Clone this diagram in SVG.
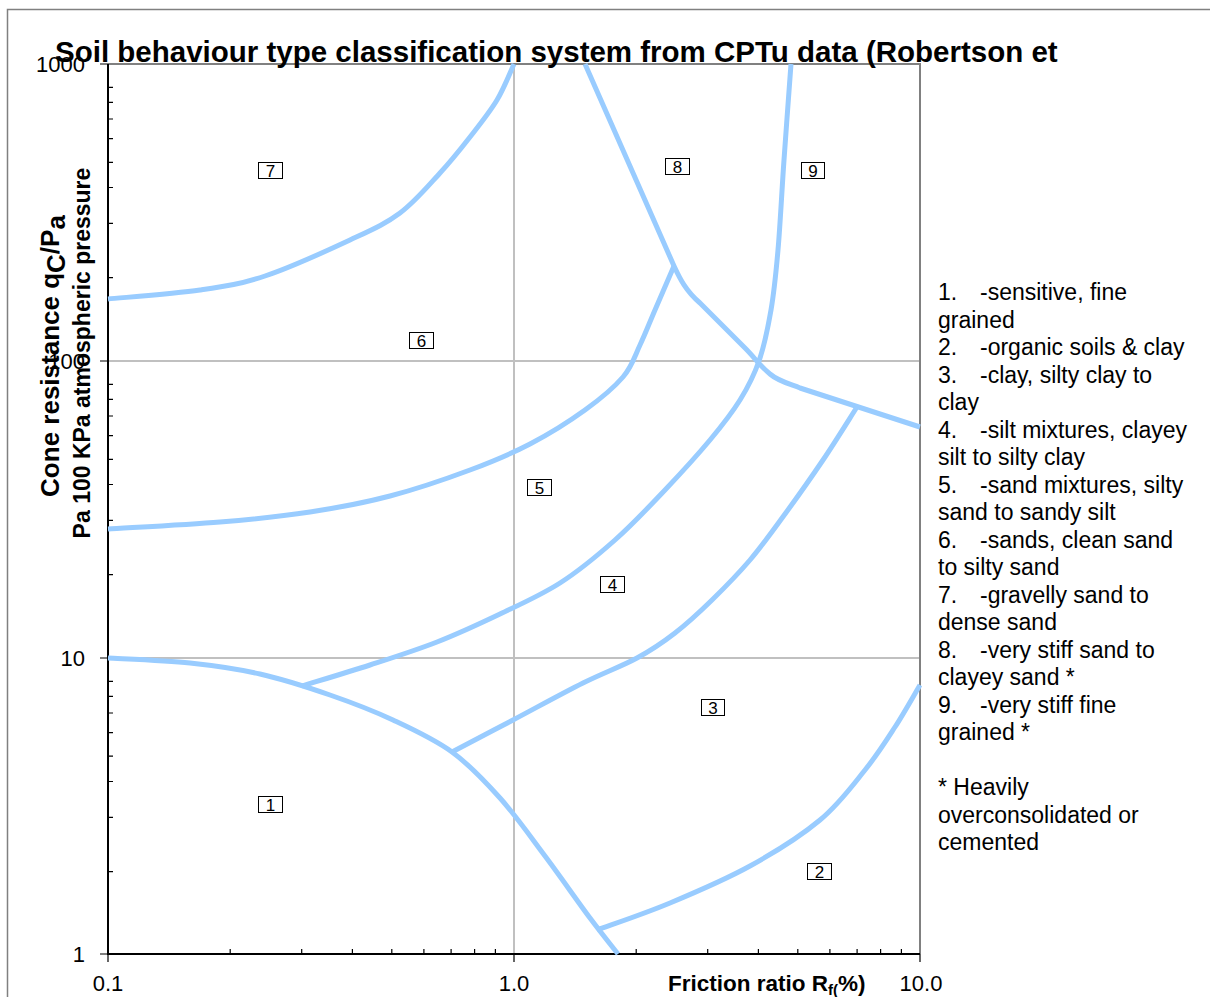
<svg xmlns="http://www.w3.org/2000/svg" width="1210" height="997" viewBox="0 0 1210 997">
<style>
text{font-family:"Liberation Sans",Arial,sans-serif;fill:#000}
.tl{font-size:22px}
.lg{font-size:23px}
.b{font-weight:bold}
.grid{stroke:#c0c0c0;stroke-width:2;fill:none}
.frame{stroke:#808080;stroke-width:2;fill:none}
.axis{stroke:#000;stroke-width:2;fill:none}
.tick{stroke:#000;stroke-width:1.2;fill:none}
.cv{stroke:#99ccff;stroke-width:5;fill:none;stroke-linejoin:round;stroke-linecap:butt}
.zb{fill:#fff;stroke:#000;stroke-width:1}
.zt{font-size:17px;text-anchor:middle}
</style>
<rect width="1210" height="997" fill="#fff"/>
<path d="M7.5,997 V9.5 H1210" stroke="#808080" stroke-width="1.5" fill="none"/>
<g id="grid">
<line class="grid" x1="514" y1="64" x2="514" y2="954"/>
<line class="grid" x1="108" y1="361" x2="920" y2="361"/>
<line class="grid" x1="108" y1="658" x2="920" y2="658"/>
<path class="frame" d="M108,64 H920 V954"/>
</g>
<g id="axes">
<path class="axis" d="M108,64 V954 H920"/>
<path class="tick" d="M100,64 H108 M100,361 H108 M100,658 H108 M100,954 H108 M108,954 V962 M514,954 V962 M920,954 V962"/>
<path class="tick" d="M108,871.6 H113 M108,817.3 H113 M108,781.5 H113 M108,756.2 H113 M108,732.6 H113 M108,713 H113 M108,696.4 H113 M108,681.4 H113
M108,574.6 H113 M108,520.3 H113 M108,484.5 H113 M108,459.3 H113 M108,435.6 H113 M108,416 H113 M108,399.3 H113 M108,384.4 H113
M108,277.6 H113 M108,223.3 H113 M108,187.5 H113 M108,162.3 H113 M108,138.6 H113 M108,119 H113 M108,102.4 H113 M108,87.4 H113"/>
<path class="tick" d="M230.2,954 V949 M301.7,954 V949 M352.4,954 V949 M391.8,954 V949 M423.9,954 V949 M451.1,954 V949 M474.6,954 V949 M495.4,954 V949
M636.2,954 V949 M707.7,954 V949 M758.4,954 V949 M797.8,954 V949 M829.9,954 V949 M857.1,954 V949 M880.6,954 V949 M901.4,954 V949"/>
<text class="tl" x="85" y="72" text-anchor="end">1000</text>
<text class="tl" x="85" y="369" text-anchor="end">100</text>
<text class="tl" x="85" y="666" text-anchor="end">10</text>
<text class="tl" x="85" y="962" text-anchor="end">1</text>
<text class="tl" x="108" y="991" text-anchor="middle">0.1</text>
<text class="tl" x="514" y="991" text-anchor="middle">1.0</text>
<text class="tl" x="921" y="991" text-anchor="middle">10.0</text>
</g>
<g id="connectors">
<path class="cv" d="M108,299 C123.3,297.5 173.8,293.8 200,290 C226.2,286.2 240,284.3 265,276 C290,267.7 327.5,250.5 350,240 C372.5,229.5 385,224.2 400,213 C415,201.8 428.3,185.7 440,173 C451.7,160.3 460.5,149.2 470,137 C479.5,124.8 489.7,112.2 497,100 C504.3,87.8 511.2,70 514,64"/>
<path class="cv" d="M108,529 C126.7,527.8 186.3,524.8 220,522 C253.7,519.2 281.7,516.3 310,512 C338.3,507.7 363.3,503 390,496 C416.7,489 446.7,478.7 470,470 C493.3,461.3 510.8,454 530,444 C549.2,434 569.5,421.2 585,410 C600.5,398.8 613.8,387.8 623,377 C632.2,366.2 634.7,356.2 640,345 C645.3,333.8 649.3,323.2 655,310 C660.7,296.8 670.8,273.3 674,266"/>
<path class="cv" d="M585,64 L674,266 C680,279 686,291 700,303 L745,348 C755,358 760,366 770,374 C778,381 790,384 800,388 L920,427"/>
<path class="cv" d="M791,64 C789.8,80 786.2,129 784,160 C781.8,191 780.2,225 778,250 C775.8,275 774.2,291.5 771,310 C767.8,328.5 764.2,346 759,361 C753.8,376 748.2,386.8 740,400 C731.8,413.2 722.5,425 710,440 C697.5,455 680.8,473.3 665,490 C649.2,506.7 632.5,524.5 615,540 C597.5,555.5 579.2,570.7 560,583 C540.8,595.3 520.5,604.2 500,614 C479.5,623.8 458.7,633.5 437,642 C415.3,650.5 392.5,657.7 370,665 C347.5,672.3 313.3,682.5 302,686"/>
<path class="cv" d="M452,752 C462.2,746.7 491.2,731.5 513,720 C534.8,708.5 562.3,693.3 583,683 C603.7,672.7 621.7,666.3 637,658 C652.3,649.7 662.5,642.7 675,633 C687.5,623.3 699.5,612.2 712,600 C724.5,587.8 737.8,574.3 750,560 C762.2,545.7 772.8,530.7 785,514 C797.2,497.3 811,477.8 823,460 C835,442.2 851.3,415.8 857,407"/>
<path class="cv" d="M108,658 C121.7,658.8 164.7,660.3 190,663 C215.3,665.7 236.7,668.7 260,674 C283.3,679.3 307.8,687.3 330,695 C352.2,702.7 372.7,710.5 393,720 C413.3,729.5 434.2,739 452,752 C469.8,765 484.5,780.7 500,798 C515.5,815.3 530,836 545,856 C560,876 577.8,901.7 590,918 C602.2,934.3 613.3,948 618,954"/>
<path class="cv" d="M597,930 C609.2,925.5 644.5,913.7 670,903 C695.5,892.3 725,879.8 750,866 C775,852.2 800.8,836 820,820 C839.2,804 852.5,785.5 865,770 C877.5,754.5 885.8,741.2 895,727 C904.2,712.8 915.8,692 920,685"/>
</g>
<g id="zone7"><rect class="zb" x="258.5" y="162.5" width="24" height="16"/><text class="zt" x="270.5" y="177">7</text></g>
<g id="zone6"><rect class="zb" x="409.5" y="332.5" width="24" height="16"/><text class="zt" x="421.5" y="347">6</text></g>
<g id="zone8"><rect class="zb" x="665.5" y="158.5" width="24" height="16"/><text class="zt" x="677.5" y="173">8</text></g>
<g id="zone9"><rect class="zb" x="801.5" y="162.5" width="23" height="16"/><text class="zt" x="813" y="177">9</text></g>
<g id="zone5"><rect class="zb" x="527.5" y="479.5" width="24" height="16"/><text class="zt" x="539.5" y="494">5</text></g>
<g id="zone4"><rect class="zb" x="600.5" y="576.5" width="24" height="16"/><text class="zt" x="612.5" y="591">4</text></g>
<g id="zone3"><rect class="zb" x="701.5" y="699.5" width="23" height="16"/><text class="zt" x="713" y="714">3</text></g>
<g id="zone1"><rect class="zb" x="258.5" y="796.5" width="24" height="16"/><text class="zt" x="270.5" y="811">1</text></g>
<g id="zone2"><rect class="zb" x="807.5" y="863.5" width="24" height="16"/><text class="zt" x="819.5" y="878">2</text></g>
<g id="title"><text class="b" x="55" y="62" font-size="29.5">Soil behaviour type classification system from CPTu data (Robertson et</text></g>
<g id="ylabel">
<text class="b" font-size="26" text-anchor="middle" transform="translate(59,356) rotate(-90)">Cone resistance q<tspan dy="6">C</tspan><tspan dy="-6">/P</tspan><tspan dy="6">a</tspan></text>
<text class="b" font-size="23" text-anchor="middle" transform="translate(90,353) rotate(-90)">Pa 100 KPa atmospheric pressure</text>
</g>
<g id="xlabel"><text class="b" x="668" y="991" font-size="22.5">Friction ratio R<tspan font-size="15" dy="4">f(</tspan><tspan dy="-4">%)</tspan></text></g>
<g id="legend" class="lg">
<text class="lg" x="938" y="300">1.<tspan x="980">-sensitive, fine</tspan></text>
<text class="lg" x="938" y="327.5">grained</text>
<text class="lg" x="938" y="355">2.<tspan x="980">-organic soils &amp; clay</tspan></text>
<text class="lg" x="938" y="382.5">3.<tspan x="980">-clay, silty clay to</tspan></text>
<text class="lg" x="938" y="410">clay</text>
<text class="lg" x="938" y="437.5">4.<tspan x="980">-silt mixtures, clayey</tspan></text>
<text class="lg" x="938" y="465">silt to silty clay</text>
<text class="lg" x="938" y="492.5">5.<tspan x="980">-sand mixtures, silty</tspan></text>
<text class="lg" x="938" y="520">sand to sandy silt</text>
<text class="lg" x="938" y="547.5">6.<tspan x="980">-sands, clean sand</tspan></text>
<text class="lg" x="938" y="575">to silty sand</text>
<text class="lg" x="938" y="602.5">7.<tspan x="980">-gravelly sand to</tspan></text>
<text class="lg" x="938" y="630">dense sand</text>
<text class="lg" x="938" y="657.5">8.<tspan x="980">-very stiff sand to</tspan></text>
<text class="lg" x="938" y="685">clayey sand *</text>
<text class="lg" x="938" y="712.5">9.<tspan x="980">-very stiff fine</tspan></text>
<text class="lg" x="938" y="740">grained *</text>
<text class="lg" x="938" y="795">* Heavily</text>
<text class="lg" x="938" y="822.5">overconsolidated or</text>
<text class="lg" x="938" y="850">cemented</text>
</g>
</svg>
